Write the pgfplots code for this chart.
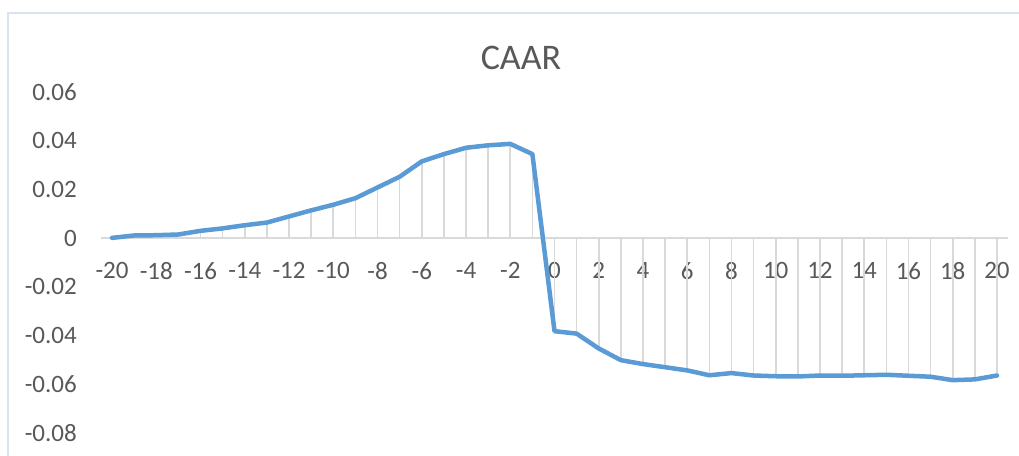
\documentclass[border=0pt]{standalone}
\usepackage{pgfplots}
\pgfplotsset{compat=1.18}
\usepackage{pgfplotstable}
\usepackage{fontspec}
\setmainfont{Carlito}
\definecolor{caarblue}{RGB}{91,155,213}
\definecolor{txtgray}{RGB}{89,89,89}
\definecolor{dropgray}{RGB}{217,217,217}
\definecolor{framecol}{RGB}{218,227,243}
\pgfplotstableread{
x y
-20 0.0001
-19 0.0011
-18 0.0012
-17 0.0015
-16 0.0030
-15 0.0040
-14 0.0053
-13 0.0064
-12 0.0089
-11 0.0114
-10 0.0137
-9 0.0164
-8 0.0208
-7 0.0252
-6 0.0315
-5 0.0345
-4 0.0371
-3 0.0381
-2 0.0387
-1 0.0345
0 -0.0382
1 -0.0392
2 -0.0453
3 -0.0501
4 -0.0517
5 -0.0530
6 -0.0543
7 -0.0563
8 -0.0554
9 -0.0564
10 -0.0567
11 -0.0568
12 -0.0564
13 -0.0565
14 -0.0563
15 -0.0561
16 -0.0565
17 -0.0569
18 -0.0583
19 -0.0580
20 -0.0564
}\caar
\begin{document}
\begin{tikzpicture}
\useasboundingbox (0,0) rectangle (1019bp,456bp);
\fill[white] (0,0) rectangle (1019bp,456bp);
\draw[framecol, line width=2bp] (8bp,0) -- (8bp,443bp) -- (1019bp,443bp);
\node[anchor=base, text=txtgray, font=\fontsize{36bp}{40bp}\selectfont, inner sep=0pt] at (521bp,386.5bp) {CAAR};
\begin{axis}[
  at={(101bp,23bp)}, anchor=south west,
  scale only axis,
  width=907bp, height=341bp,
  xmin=-20.5, xmax=20.5,
  ymin=-0.08, ymax=0.06,
  scaled y ticks=false,
  scaled x ticks=false,
  axis x line=middle,
  axis y line=left,
  y axis line style={draw=none},
  x axis line style={draw=dropgray, line width=1.5bp, -},
  major tick length=0pt,
  xtick={-20,-18,...,20},
  xticklabels={-20,-18,-16,-14,-12,-10,-8,-6,-4,-2,0,2,4,6,8,10,12,14,16,18,20},
  ytick={-0.08,-0.06,-0.04,-0.02,0,0.02,0.04,0.06},
  yticklabels={-0.08,-0.06,-0.04,-0.02,0,0.02,0.04,0.06},
  xticklabel style={anchor=north, inner sep=0pt, yshift=-24bp, text=txtgray, font=\fontsize{25bp}{30bp}\selectfont},
  yticklabel style={anchor=east, inner sep=0pt, xshift=-24bp, text=txtgray, font=\fontsize{25bp}{30bp}\selectfont},
  clip=false,
]
\addplot[ycomb, draw=dropgray, line width=1.6bp, mark=none] table[x=x, y=y] {\caar};
\addplot[draw=caarblue, line width=4.5bp, line join=round, line cap=round, mark=none] table[x=x, y=y] {\caar};
\end{axis}
\end{tikzpicture}
\end{document}
